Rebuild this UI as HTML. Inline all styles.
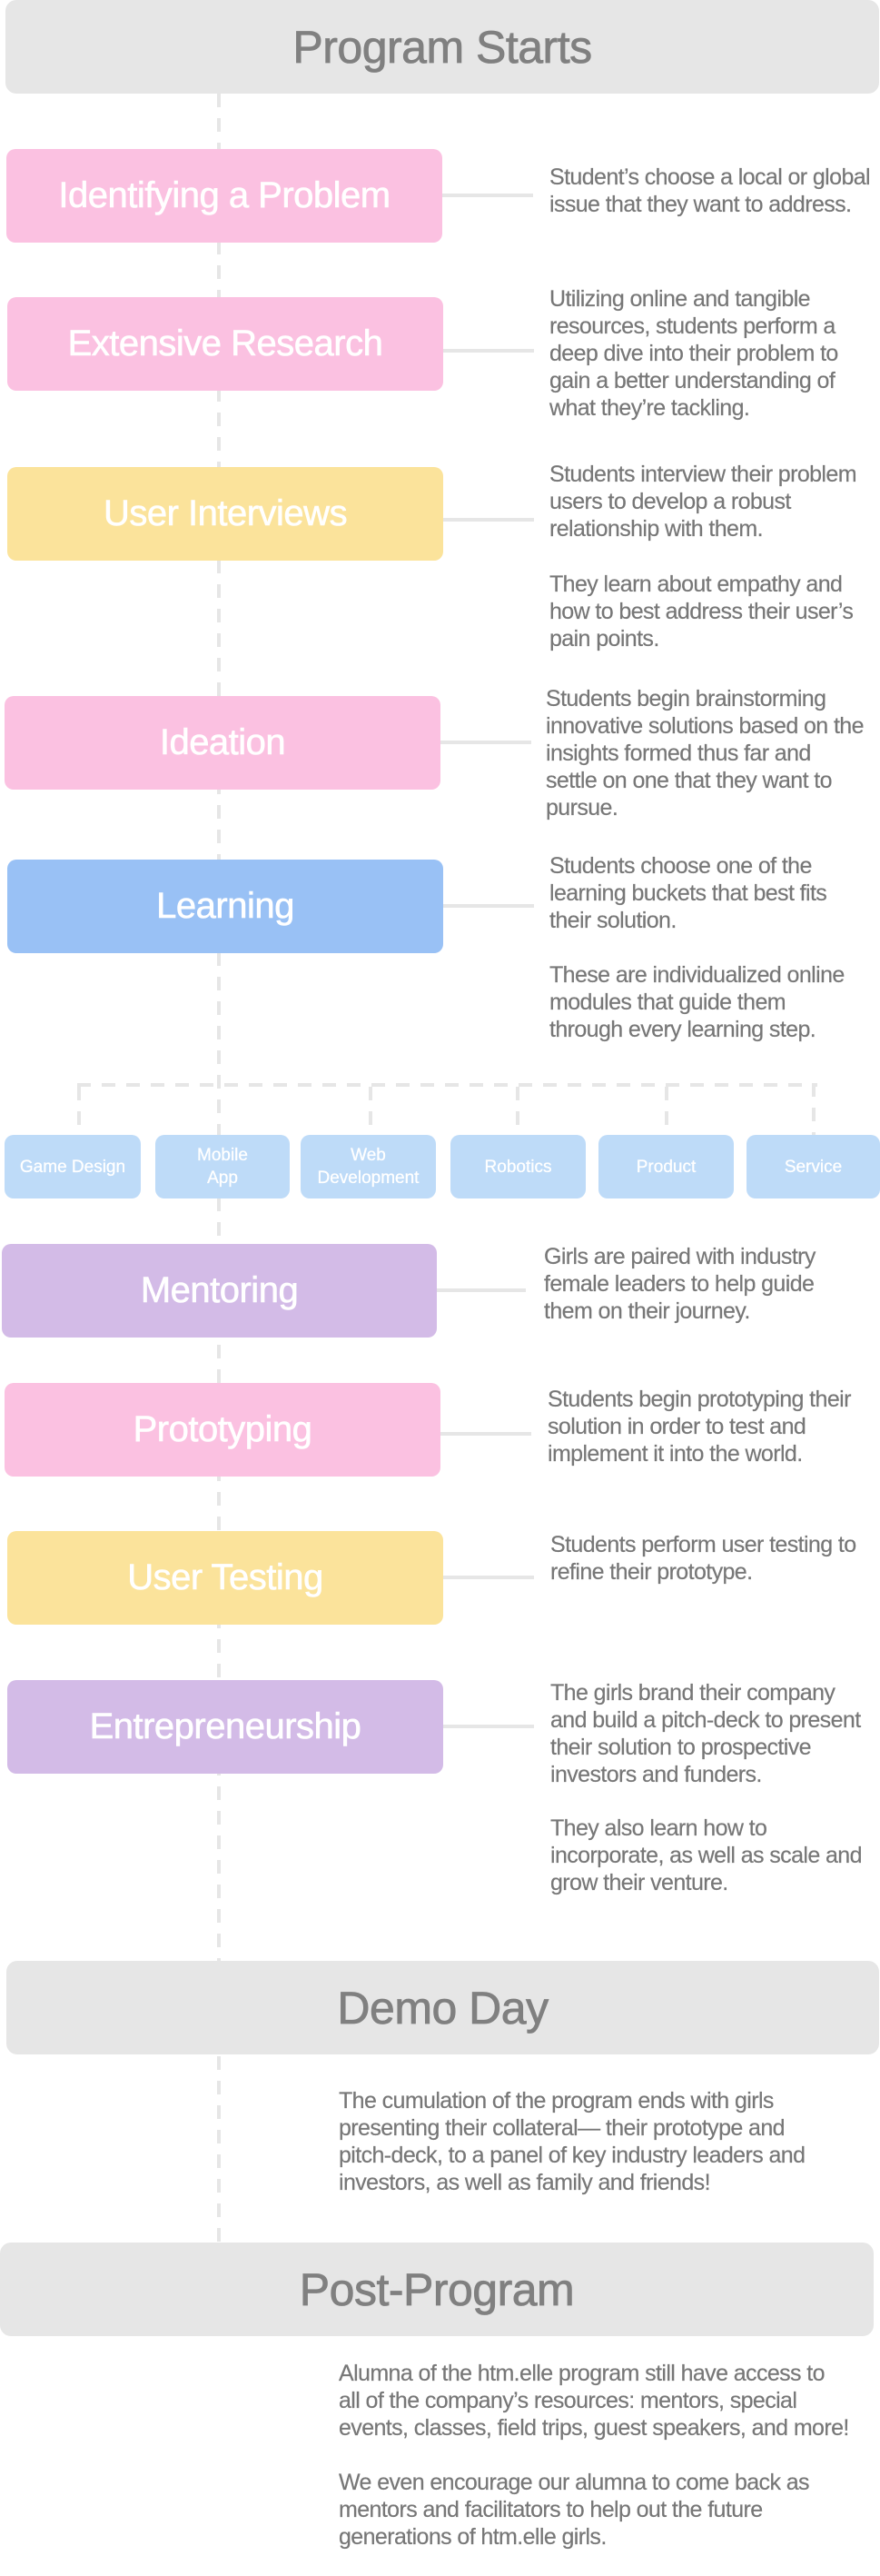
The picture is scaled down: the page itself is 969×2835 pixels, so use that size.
<!DOCTYPE html>
<html><head><meta charset="utf-8"><style>
*{margin:0;padding:0;box-sizing:border-box}
body{width:969px;height:2835px;background:#fff;position:relative;overflow:hidden;font-family:"Liberation Sans",sans-serif}
.vl{position:absolute;width:4px;background:repeating-linear-gradient(to bottom,#e6e6e6 0 15px,transparent 15px 27px)}
.hl{position:absolute;height:4px;background:repeating-linear-gradient(to right,#e6e6e6 0 15px,transparent 15px 27px)}
.box{position:absolute;border-radius:10px;color:#fff;display:flex;align-items:center;justify-content:center;font-size:40px;letter-spacing:-0.5px;height:103px;-webkit-text-stroke:0.6px #fff}
.big{position:absolute;border-radius:12px;background:#e6e6e6;color:#808080;display:flex;align-items:center;justify-content:center;font-size:50px;letter-spacing:-0.5px;height:103px;-webkit-text-stroke:0.8px #808080}
.pink{background:#fbc1e1}.yel{background:#fbe39b}.blue{background:#99c1f5}.pur{background:#d3bbe7}
.con{position:absolute;height:4px;background:#e6e6e6}
.d{position:absolute;font-size:25px;line-height:30px;color:#777;white-space:nowrap;letter-spacing:-0.6px;-webkit-text-stroke:0.2px #777}
.b{position:absolute;top:1249px;height:70px;border-radius:10px;background:#bedbf8;color:#fff;font-size:19px;line-height:25px;display:flex;align-items:center;justify-content:center;text-align:center;-webkit-text-stroke:0.3px #fff}
</style></head><body>
<div class="vl" style="left:239px;top:103px;height:2365px"></div>
<div class="hl" style="left:85px;top:1192px;width:815px"></div>
<div class="vl" style="left:85px;top:1196px;height:53px"></div>
<div class="vl" style="left:406px;top:1196px;height:53px"></div>
<div class="vl" style="left:568px;top:1196px;height:53px"></div>
<div class="vl" style="left:732px;top:1196px;height:53px"></div>
<div class="vl" style="left:894px;top:1192px;height:57px"></div>

<div class="big" style="left:6px;top:0;width:962px">Program Starts</div>

<div class="box pink" style="left:7px;top:164px;width:480px">Identifying a Problem</div>
<div class="con" style="left:487px;top:213px;width:100px"></div>
<div class="d" style="left:605px;top:180px">Student’s choose a local or global<br>issue that they want to address.</div>

<div class="box pink" style="left:8px;top:327px;width:480px">Extensive Research</div>
<div class="con" style="left:488px;top:384px;width:100px"></div>
<div class="d" style="left:605px;top:314px">Utilizing online and tangible<br>resources, students perform a<br>deep dive into their problem to<br>gain a better understanding of<br>what they’re tackling.</div>

<div class="box yel" style="left:8px;top:514px;width:480px">User Interviews</div>
<div class="con" style="left:488px;top:570px;width:100px"></div>
<div class="d" style="left:605px;top:507px">Students interview their problem<br>users to develop a robust<br>relationship with them.</div>
<div class="d" style="left:605px;top:628px">They learn about empathy and<br>how to best address their user’s<br>pain points.</div>

<div class="box pink" style="left:5px;top:766px;width:480px">Ideation</div>
<div class="con" style="left:485px;top:815px;width:100px"></div>
<div class="d" style="left:601px;top:754px">Students begin brainstorming<br>innovative solutions based on the<br>insights formed thus far and<br>settle on one that they want to<br>pursue.</div>

<div class="box blue" style="left:8px;top:946px;width:480px">Learning</div>
<div class="con" style="left:488px;top:995px;width:100px"></div>
<div class="d" style="left:605px;top:938px">Students choose one of the<br>learning buckets that best fits<br>their solution.</div>
<div class="d" style="left:605px;top:1058px">These are individualized online<br>modules that guide them<br>through every learning step.</div>

<div class="b" style="left:5px;width:150px">Game Design</div>
<div class="b" style="left:171px;width:148px">Mobile<br>App</div>
<div class="b" style="left:331px;width:149px">Web<br>Development</div>
<div class="b" style="left:496px;width:149px">Robotics</div>
<div class="b" style="left:659px;width:149px">Product</div>
<div class="b" style="left:822px;width:147px">Service</div>

<div class="box pur" style="left:2px;top:1369px;width:479px">Mentoring</div>
<div class="con" style="left:481px;top:1418px;width:98px"></div>
<div class="d" style="left:599px;top:1368px">Girls are paired with industry<br>female leaders to help guide<br>them on their journey.</div>

<div class="box pink" style="left:5px;top:1522px;width:480px">Prototyping</div>
<div class="con" style="left:485px;top:1576px;width:100px"></div>
<div class="d" style="left:603px;top:1525px">Students begin prototyping their<br>solution in order to test and<br>implement it into the world.</div>

<div class="box yel" style="left:8px;top:1685px;width:480px">User Testing</div>
<div class="con" style="left:488px;top:1734px;width:100px"></div>
<div class="d" style="left:606px;top:1685px">Students perform user testing to<br>refine their prototype.</div>

<div class="box pur" style="left:8px;top:1849px;width:480px">Entrepreneurship</div>
<div class="con" style="left:488px;top:1898px;width:100px"></div>
<div class="d" style="left:606px;top:1848px">The girls brand their company<br>and build a pitch-deck to present<br>their solution to prospective<br>investors and funders.</div>
<div class="d" style="left:606px;top:1997px">They also learn how to<br>incorporate, as well as scale and<br>grow their venture.</div>

<div class="big" style="left:7px;top:2158px;width:961px">Demo Day</div>
<div class="d" style="left:373px;top:2297px">The cumulation of the program ends with girls<br>presenting their collateral— their prototype and<br>pitch-deck, to a panel of key industry leaders and<br>investors, as well as family and friends!</div>

<div class="big" style="left:0;top:2468px;width:962px">Post-Program</div>
<div class="d" style="left:373px;top:2597px">Alumna of the htm.elle program still have access to<br>all of the company’s resources: mentors, special<br>events, classes, field trips, guest speakers, and more!</div>
<div class="d" style="left:373px;top:2717px">We even encourage our alumna to come back as<br>mentors and facilitators to help out the future<br>generations of htm.elle girls.</div>
</body></html>
